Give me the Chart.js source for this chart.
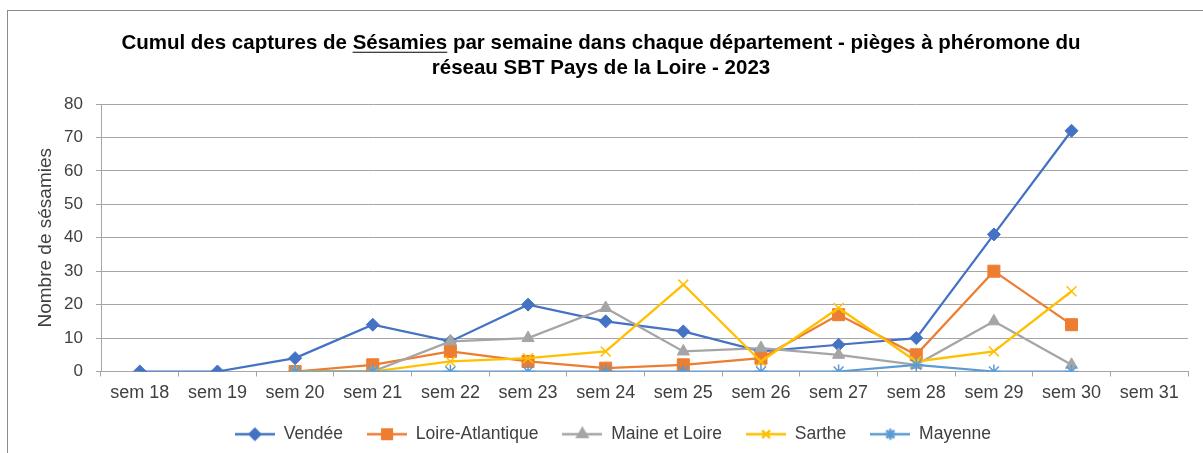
<!DOCTYPE html>
<html>
<head>
<meta charset="utf-8">
<script src="https://cdn.jsdelivr.net/npm/chart.js@4"></script>
<style>
  html, body { margin: 0; padding: 0; background: #fff; overflow: hidden; }
  .frame { position: absolute; left: 7px; top: 10px; width: 1300px; height: 600px; border: 1px solid #8c8c8c; }
  .wrap { position: absolute; left: 0; top: 0; width: 1203px; height: 453px; }
</style>
</head>
<body>
<div class="frame"></div>
<div class="wrap"><canvas id="chart"></canvas></div>
<script>
// Cumul des captures de Sésamies - réseau SBT Pays de la Loire 2023
const weeks = ['sem 18', 'sem 19', 'sem 20', 'sem 21', 'sem 22', 'sem 23', 'sem 24',
  'sem 25', 'sem 26', 'sem 27', 'sem 28', 'sem 29', 'sem 30', 'sem 31'];

const vendee          = [0, 0, 4, 14, 9, 20, 15, 12, 6, 8, 10, 41, 72, null];
const loireAtlantique = [null, null, 0, 2, 6, 3, 1, 2, 4, 17, 5, 30, 14, null];
const maineEtLoire    = [null, null, 0, 0, 9, 10, 19, 6, 7, 5, 2, 15, 2, null];
const sarthe          = [null, null, 0, 0, 3, 4, 6, 26, 3, 19, 3, 6, 24, null];
const mayenne         = [null, null, 0, 0, 0, 0, 0, 0, 0, 0, 2, 0, 0, null];

const yTicks = [0, 10, 20, 30, 40, 50, 60, 70, 80];

const colors = {
  vendee: '#4472C4',
  loire: '#ED7D31',
  maine: '#A5A5A5',
  sarthe: '#FFC000',
  mayenne: '#5B9BD5'
};

const FONT = "'Liberation Sans', Arial, sans-serif";

// legend icons: a line with the marker in the middle, like Excel does
function legendIcon(color, style, radius) {
  const c = document.createElement('canvas');
  c.width = 40; c.height = 16;
  const g = c.getContext('2d');
  g.strokeStyle = color; g.fillStyle = color; g.lineWidth = 2.5;
  g.beginPath(); g.moveTo(0, 8); g.lineTo(40, 8); g.stroke();
  Chart.helpers.drawPoint(g, { pointStyle: style, radius: radius * 0.8, borderWidth: 1.5 }, 20, 8);
  return c;
}

function series(label, data, color, style, radius, order) {
  return {
    label: label,
    data: data,
    borderColor: color,
    backgroundColor: color,
    pointStyle: style,
    pointRadius: radius,
    pointHoverRadius: radius,
    pointBorderWidth: (style === 'crossRot' || style === 'star') ? 1.5 : 1,
    borderWidth: 2.25,
    tension: 0,
    spanGaps: false,
    order: order
  };
}

// the title and legend sit a little right of the plot centre in the original
const shiftBoxes = {
  id: 'shiftBoxes',
  afterLayout(chart) {
    if (chart.titleBlock) { chart.titleBlock.left += 7; chart.titleBlock.right += 7; }
    if (chart.legend) { chart.legend.left += 19; chart.legend.right += 19; }
  }
};

const underlinePlugin = {
  id: 'underlineWord',
  afterDraw(chart) {
    const t = chart.titleBlock;
    if (!t) return;
    const opts = chart.options.plugins.title;
    const font = Chart.helpers.toFont(opts.font);
    const g = chart.ctx;
    g.save();
    g.font = font.string;
    const line = opts.text[0];
    const pre = 'Cumul des captures de ';
    const full = g.measureText(line).width;
    const x0 = (t.left + t.right) / 2 - full / 2 + g.measureText(pre).width;
    const w = g.measureText('Sésamies').width;
    const pad = Chart.helpers.toPadding(opts.padding);
    const y = t.top + pad.top + font.lineHeight / 2 + font.size * 0.45;
    g.strokeStyle = '#000'; g.lineWidth = 1.2;
    g.beginPath(); g.moveTo(x0, y); g.lineTo(x0 + w, y); g.stroke();
    g.restore();
  }
};

new Chart(document.getElementById('chart'), {
  type: 'line',
  data: {
    labels: weeks,
    datasets: [
      series('Vendée', vendee, colors.vendee, 'rectRot', 6.5, 5),
      series('Loire-Atlantique', loireAtlantique, colors.loire, 'rect', 8.5, 4),
      series('Maine et Loire', maineEtLoire, colors.maine, 'triangle', 7, 3),
      series('Sarthe', sarthe, colors.sarthe, 'crossRot', 7, 2),
      series('Mayenne', mayenne, colors.mayenne, 'star', 7, 1)
    ]
  },
  options: {
    responsive: true,
    maintainAspectRatio: false,
    animation: false,
    layout: { padding: { left: 0, right: 15, top: 0, bottom: 0 } },
    plugins: {
      title: {
        display: true,
        text: ['Cumul des captures de Sésamies par semaine dans chaque département - pièges à phéromone du',
               'réseau SBT Pays de la Loire - 2023'],
        color: '#000',
        font: { family: FONT, size: 20.5, weight: 'bold', lineHeight: 1.22 },
        padding: { top: 30.5, bottom: 23.5 }
      },
      legend: {
        position: 'bottom',
        labels: {
          usePointStyle: true,
          pointStyleWidth: 40,
          color: '#404040',
          font: { family: FONT, size: 17.5, lineHeight: 1 },
          padding: 24,
          generateLabels(chart) {
            return chart.data.datasets.map((ds, i) => ({
              text: ds.label,
              pointStyle: legendIcon(ds.borderColor, ds.pointStyle, ds.pointRadius),
              fillStyle: ds.borderColor,
              strokeStyle: ds.borderColor,
              fontColor: '#404040',
              lineWidth: 0,
              datasetIndex: i
            }));
          }
        }
      },
      tooltip: { enabled: false }
    },
    scales: {
      x: {
        offset: true,
        afterFit(scale) { scale.height = 30; },
        grid: { display: true, drawOnChartArea: false, drawTicks: true, tickLength: 5, color: '#a6a6a6', offset: true },
        border: { color: '#a6a6a6', width: 1 },
        ticks: { color: '#404040', font: { family: FONT, size: 18, lineHeight: 1 }, padding: 8, maxRotation: 0, autoSkip: false }
      },
      y: {
        min: 0,
        max: 80,
        afterBuildTicks(scale) { scale.ticks = yTicks.map(v => ({ value: v })); },
        afterFit(scale) { scale.width = 101; },
        grid: { color: '#a6a6a6', lineWidth: 1, drawTicks: true, tickLength: 5 },
        border: { color: '#a6a6a6', width: 1 },
        ticks: { color: '#404040', font: { family: FONT, size: 17 }, padding: 13 },
        title: { display: true, text: 'Nombre de sésamies', color: '#404040', font: { family: FONT, size: 19 }, padding: { top: 34, bottom: 0 } }
      }
    }
  },
  plugins: [shiftBoxes, underlinePlugin]
});
</script>
</body>
</html>
